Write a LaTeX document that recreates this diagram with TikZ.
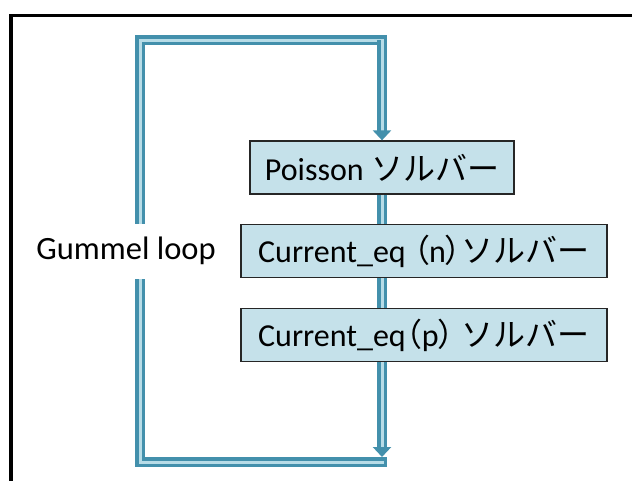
\documentclass[tikz,border=0pt]{standalone}
\usepackage{fontspec}
\setmainfont{Carlito}
\newfontfamily\jp{Noto Sans CJK JP}
\newfontfamily\jpp[RawFeature=+palt]{Noto Sans CJK JP}
\usetikzlibrary{arrows.meta}
\definecolor{loopdark}{HTML}{4390AC}
\definecolor{looplight}{HTML}{B7DCE7}
\definecolor{boxfill}{HTML}{C5E1EA}
\tikzset{
  dbl/.style={draw=loopdark, double=looplight, line width=3.5pt, double distance=3pt, line join=miter},
  arr/.style={-{Triangle[length=10pt,width=18pt]}},
  solver/.style={draw=black!85, line width=1.3pt, fill=boxfill, minimum height=53pt, inner sep=0pt, font=\fontsize{32}{36}\selectfont},
  looplabel/.style={fill=white, minimum height=55pt, inner sep=2pt, font=\fontsize{32.5}{36}\selectfont},
}
\begin{document}
\begin{tikzpicture}[x=1pt,y=-1pt]
\useasboundingbox (0,0) rectangle (632,480);
\draw[line width=3.5pt] (11,490) -- (11,15.5) -- (650,15.5);
\node[solver, minimum width=264pt] (poisson) at (382,167.5) {Poisson {\jp ソルバー}};
\node[solver, minimum width=366pt] (curn) at (424,251) {Current\_eq {\jpp （}n{\jpp ）}{\jp ソルバー}};
\node[solver, minimum width=366pt] (curp) at (424,335) {Current\_eq{\jpp （}p{\jpp ）} {\jp ソルバー}};
\coordinate (br) at (382,462);
\coordinate (bl) at (140,462);
\coordinate (tl) at (140,40);
\coordinate (tr) at (382,40);
\coordinate (bend) at (382,457);
\draw[dbl] (poisson.south) -- (poisson.south |- curn.north);
\draw[dbl] (poisson.south |- curn.south) -- (poisson.south |- curp.north);
\draw[dbl, line cap=rect] (br) -- (bl) -- (tl) -- (tr) -- ([yshift=-5pt]tr);
\draw[dbl, arr] (tr) -- (poisson.north);
\draw[dbl, arr] (poisson.south |- curp.south) -- (bend);
\node[looplabel] (gl) at (126,251) {Gummel loop};
\end{tikzpicture}
\end{document}
